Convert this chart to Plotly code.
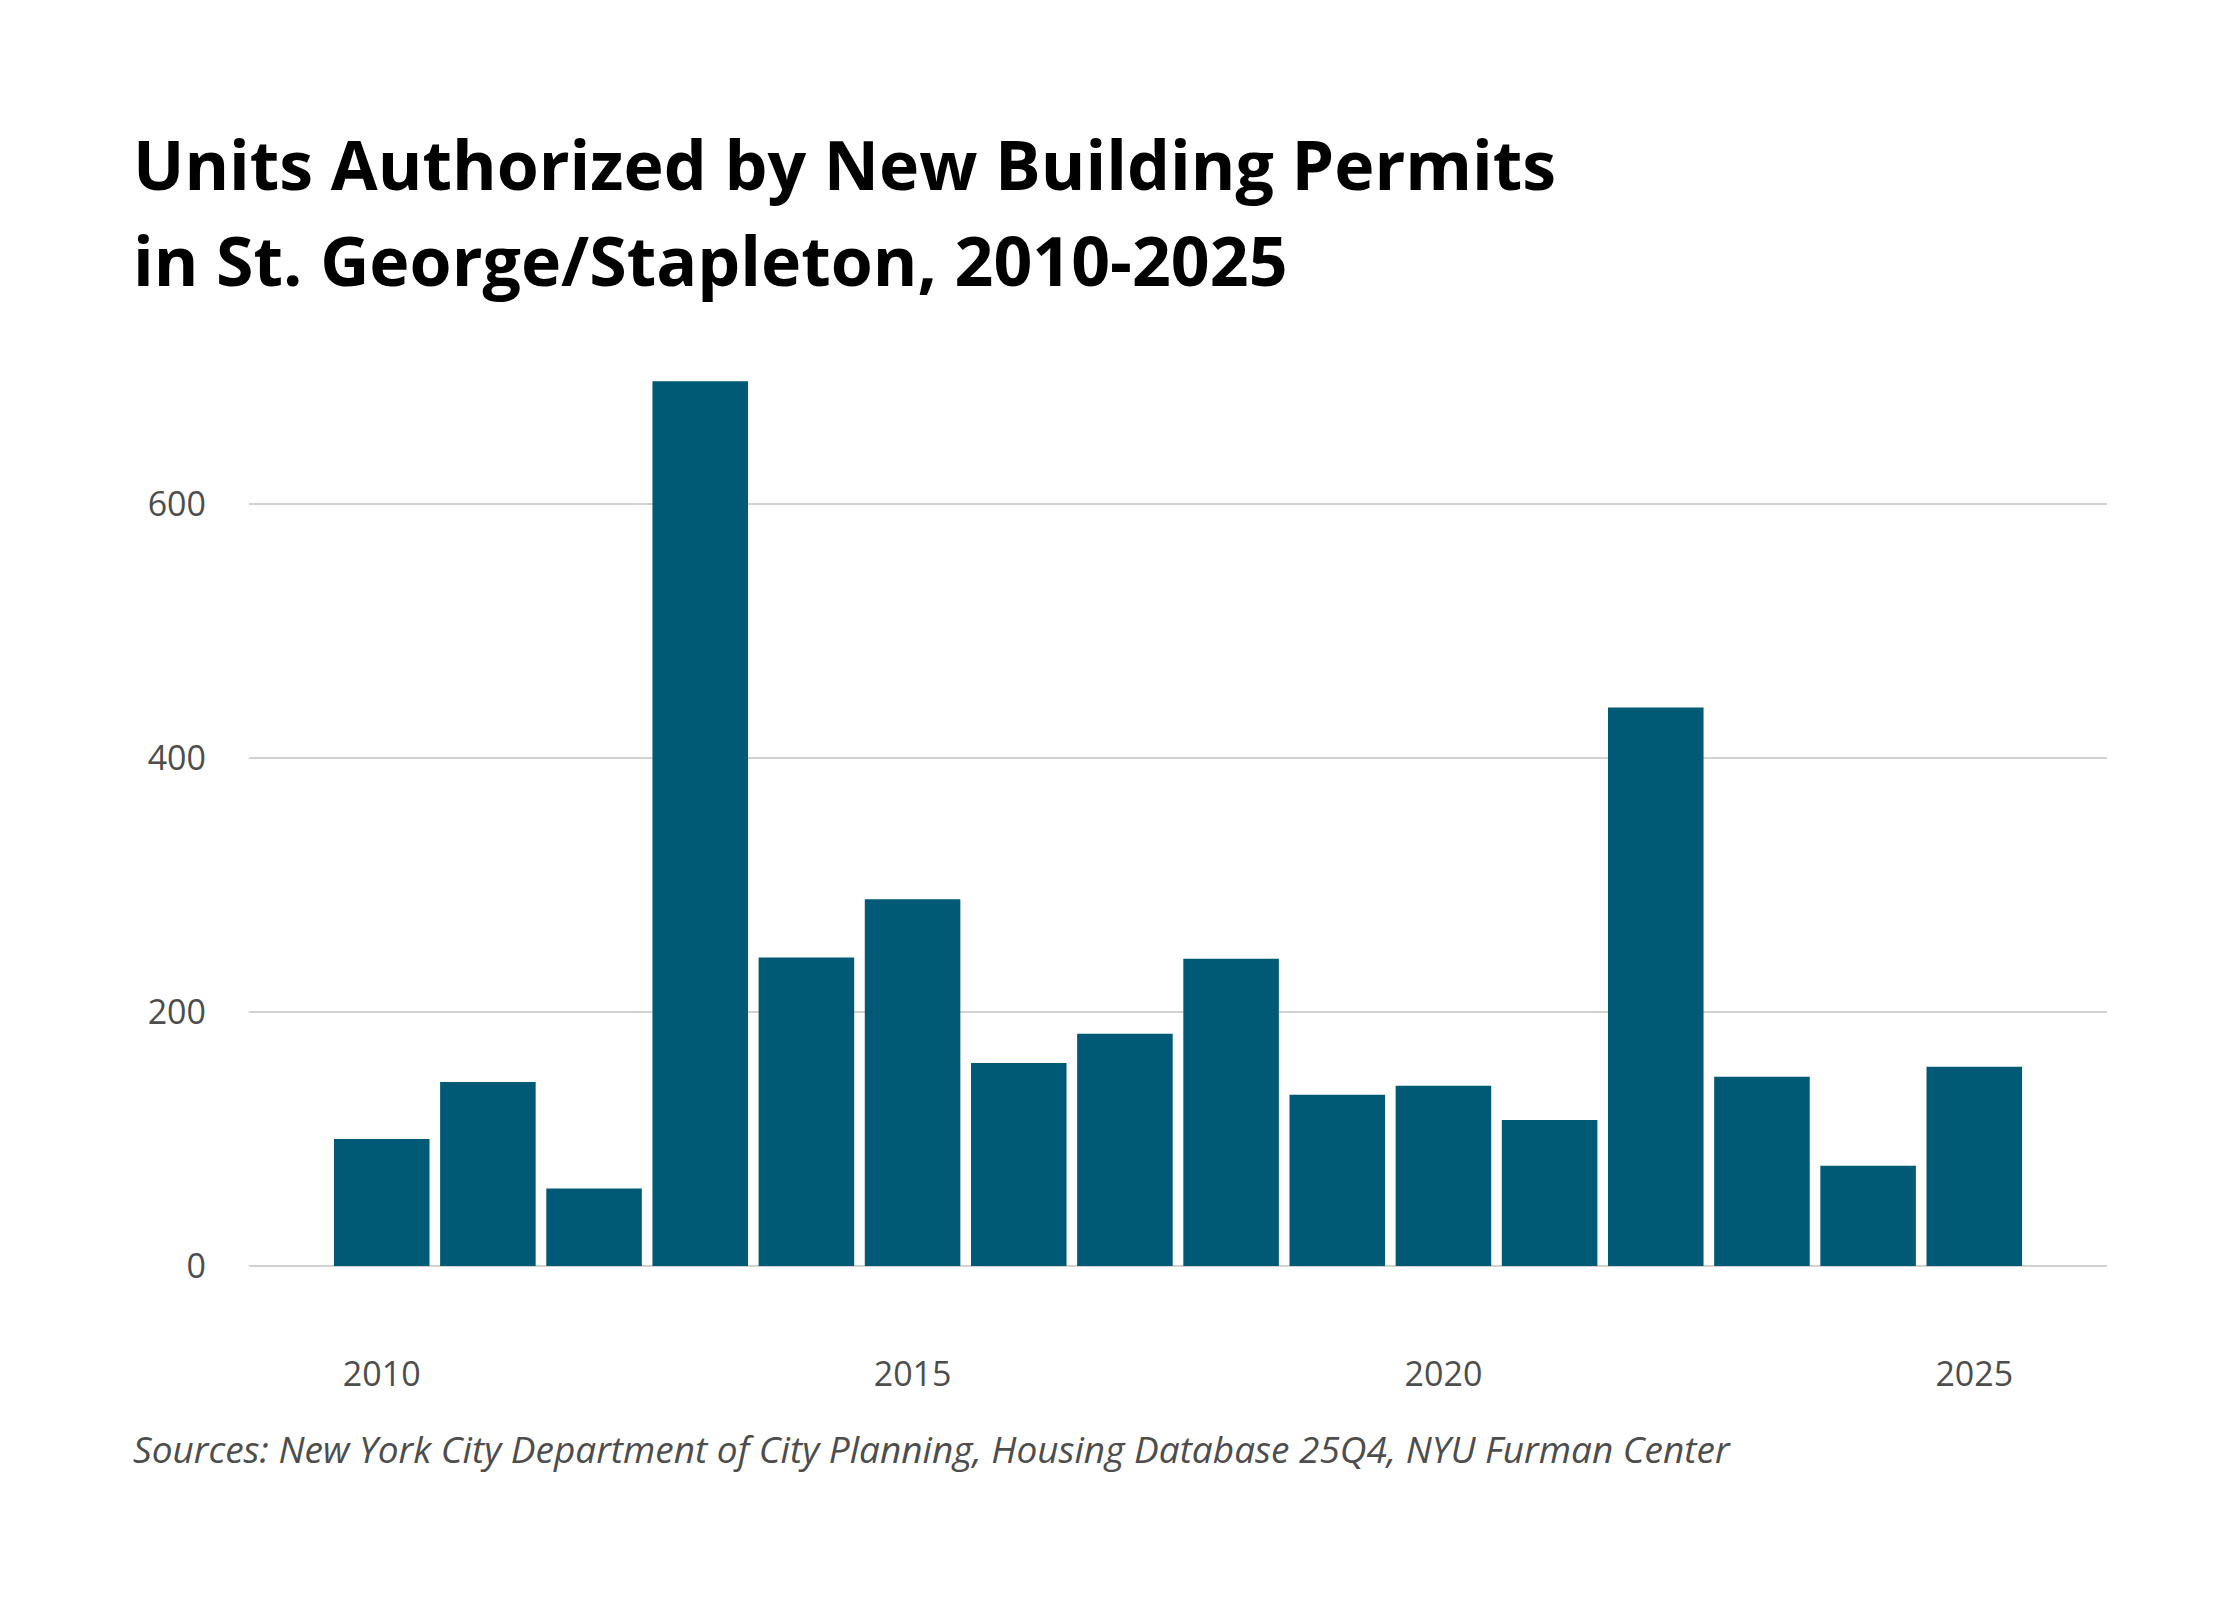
import plotly.graph_objects as go

# chart data
years = [2010, 2011, 2012, 2013, 2014, 2015, 2016, 2017,
         2018, 2019, 2020, 2021, 2022, 2023, 2024, 2025]
units = [100, 145, 61, 697, 243, 289, 160, 183,
         242, 135, 142, 115, 440, 149, 79, 157]
y_ticks = [0, 200, 400, 600]
x_ticks = [2010, 2015, 2020, 2025]

title_lines = ["Units Authorized by New Building Permits",
               "in St. George/Stapleton, 2010-2025"]
source_text = ("Sources: New York City Department of City Planning, "
               "Housing Database 25Q4, NYU Furman Center")

BAR_COLOR = "#015a75"
GRID_COLOR = "#d2d2d2"
TEXT_GRAY = "#4d4d4d"

# page has an 8px body margin, so the plot box is pulled back by 8px
ML, MR, MT, MB = 241, 141, 344, 342
PW = 2240 - ML - MR
PH = 1600 - MT - MB

fig = go.Figure()
fig.add_trace(go.Bar(x=years, y=units, marker_color=BAR_COLOR,
                     marker_line_width=0, hoverinfo="x+y"))

fig.update_layout(
    width=2240,
    height=1600,
    margin=dict(l=ML, r=MR, t=MT, b=MB),
    paper_bgcolor="white",
    plot_bgcolor="white",
    bargap=0.1,
    showlegend=False,
    font=dict(family="Open Sans", color=TEXT_GRAY),
)

fig.update_xaxes(
    range=[2008.75, 2026.25],
    tickvals=x_ticks,
    showgrid=False,
    zeroline=False,
    showline=False,
    ticks="",
    ticklabelstandoff=85,
    tickfont=dict(size=34, color=TEXT_GRAY, family="Open Sans"),
)

fig.update_yaxes(
    range=[0, 720],
    tickvals=y_ticks,
    showgrid=True,
    gridcolor=GRID_COLOR,
    gridwidth=2,
    zeroline=True,
    zerolinecolor=GRID_COLOR,
    zerolinewidth=2,
    showline=False,
    ticks="",
    ticklabelstandoff=42,
    tickfont=dict(size=34, color=TEXT_GRAY, family="Open Sans"),
)

# title as two separate lines for exact spacing
left_x = (123 - ML) / PW
for i, line in enumerate(title_lines):
    fig.add_annotation(
        text=line, xref="paper", yref="paper",
        x=left_x, y=1 + (MT - 180 - 96 * i) / PH,
        xanchor="left", yanchor="bottom", yshift=-24, showarrow=False,
        font=dict(family="Open Sans", size=68, color="#000000", weight="bold"),
    )

fig.add_annotation(
    text=source_text, xref="paper", yref="paper",
    x=left_x, y=-(1455 - (1600 - MB)) / PH,
    xanchor="left", yanchor="bottom", yshift=-13, showarrow=False,
    font=dict(family="Open Sans", size=37, color=TEXT_GRAY, style="italic"),
)

fig.write_html("out.html")
